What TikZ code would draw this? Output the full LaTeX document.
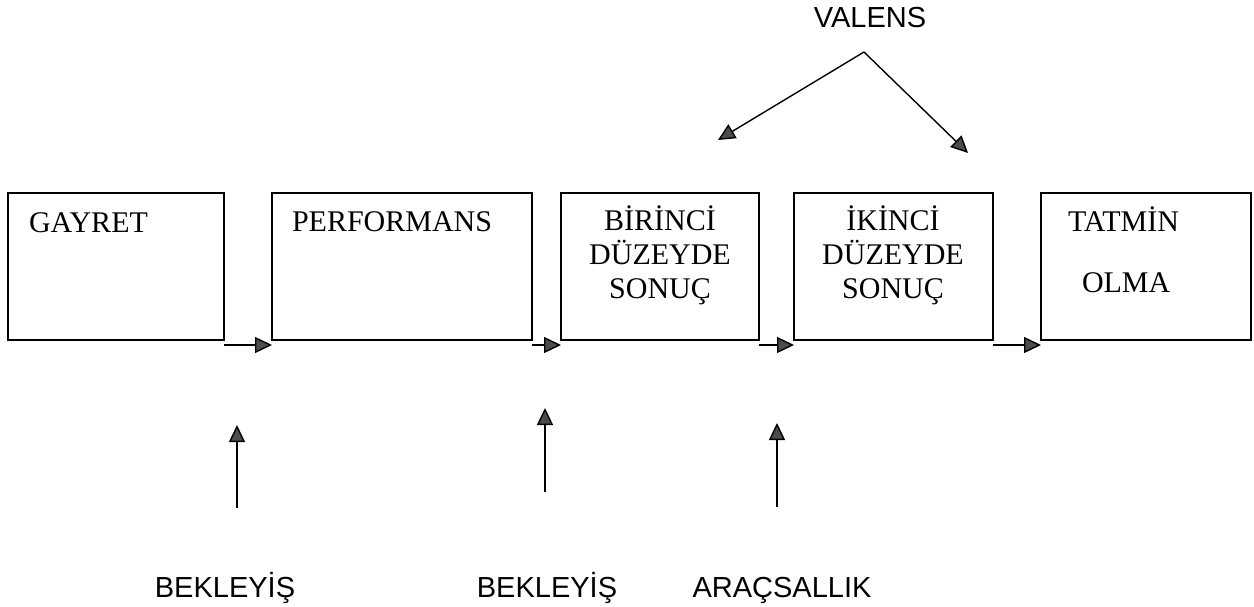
\documentclass[tikz,border=0pt]{standalone}
\usepackage{fontspec}
\setmainfont{Liberation Serif}
\newfontfamily\labelfont{Liberation Sans}
\usetikzlibrary{arrows.meta}

\tikzset{
  box/.style={draw=black, line width=1.8pt, rectangle, inner sep=0pt, outer sep=0pt, anchor=north west},
  boxtext/.style={font=\fontsize{30}{34}\selectfont, inner sep=0pt, outer sep=0pt},
  sidetext/.style={font=\labelfont\fontsize{29}{34}\selectfont, inner sep=0pt, outer sep=0pt},
  flow/.style={draw=black, line width=1.4pt,
    -{Triangle[length=17pt, width=16pt, fill=black!70]}},
}

\begin{document}
\begin{tikzpicture}[x=1pt, y=-1pt]
  \useasboundingbox (0,0) rectangle (1254,607);

  % the five stages
  \node[box, minimum width=216pt, minimum height=147pt] (g) at (8,193) {};
  \node[box, minimum width=260pt, minimum height=147pt] (p) at (272,193) {};
  \node[box, minimum width=198pt, minimum height=147pt] (b) at (561,193) {};
  \node[box, minimum width=199pt, minimum height=147pt] (i) at (794,193) {};
  \node[box, minimum width=210pt, minimum height=147pt] (t) at (1041,193) {};

  % stage captions
  \node[boxtext, anchor=base west] (gtxt) at (29,233) {GAYRET};
  \node[boxtext, anchor=base west] (ptxt) at (292,231) {PERFORMANS};
  \node[boxtext, anchor=base, align=center] (btxt) at (660,298) {BİRİNCİ\\DÜZEYDE\\SONUÇ};
  \node[boxtext, anchor=base, align=center] (itxt) at (893,298) {İKİNCİ\\DÜZEYDE\\SONUÇ};
  \node[boxtext, anchor=base west] (ttxt1) at (1068,231) {TATMİN};
  \node[boxtext, anchor=base west] (ttxt2) at (1082,292) {OLMA};

  % flow between stages
  \draw[flow] ([yshift=-5pt]g.south east) -- ([yshift=-5pt]p.south west);
  \draw[flow] ([yshift=-5pt]p.south east) -- ([yshift=-5pt]b.south west);
  \draw[flow] ([yshift=-5pt]b.south east) -- ([yshift=-5pt]i.south west);
  \draw[flow] ([yshift=-5pt]i.south east) -- ([yshift=-5pt]t.south west);

  % valence
  \node[sidetext, anchor=base] (valens) at (870,28) {VALENS};
  \coordinate (apex) at (864,52);
  \coordinate (vleft) at (718,140);
  \coordinate (vright) at (968,153);
  \draw[flow] (apex) -- (vleft);
  \draw[flow] (apex) -- (vright);

  % expectancy and instrumentality
  \node[sidetext, anchor=base] (bek1) at (225,597) {BEKLEYİŞ};
  \node[sidetext, anchor=base] (bek2) at (547,597) {BEKLEYİŞ};
  \node[sidetext, anchor=base] (arac) at (782,597) {ARAÇSALLIK};
  \coordinate (a1s) at (237,508);
  \coordinate (a1e) at (237,425);
  \coordinate (a2s) at (545,492);
  \coordinate (a2e) at (545,408);
  \coordinate (a3s) at (777,507);
  \coordinate (a3e) at (777,423);
  \draw[flow] (a1s) -- (a1e);
  \draw[flow] (a2s) -- (a2e);
  \draw[flow] (a3s) -- (a3e);
\end{tikzpicture}
\end{document}
